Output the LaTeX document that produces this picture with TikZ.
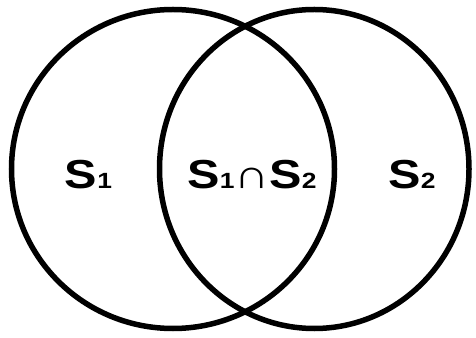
\documentclass[tikz,border=0pt]{standalone}
\usepackage{fontspec}
\setmainfont{Liberation Sans}
\newcommand\mysub[1]{{\fontsize{22}{22}\selectfont #1}}
\begin{document}
\begin{tikzpicture}[x=1pt,y=1pt,
  ring/.style={draw=black, line width=5.5pt},
  lab/.style={font=\fontsize{40.5}{41}\selectfont\bfseries, anchor=base, inner sep=0pt, xscale=1.2}]
\useasboundingbox (0,0) rectangle (476,337);
\draw[ring] (173,168) ellipse [x radius=161.5, y radius=159.5];
\draw[ring] (314.25,168) ellipse [x radius=154.75, y radius=159.5];
\node[lab] (s1) at (88.5,148) {S\mysub{1}};
\node[lab] (s12) at (252,148) {S\mysub{1}∩S\mysub{2}};
\node[lab] (s2) at (412,148) {S\mysub{2}};
\end{tikzpicture}
\end{document}
